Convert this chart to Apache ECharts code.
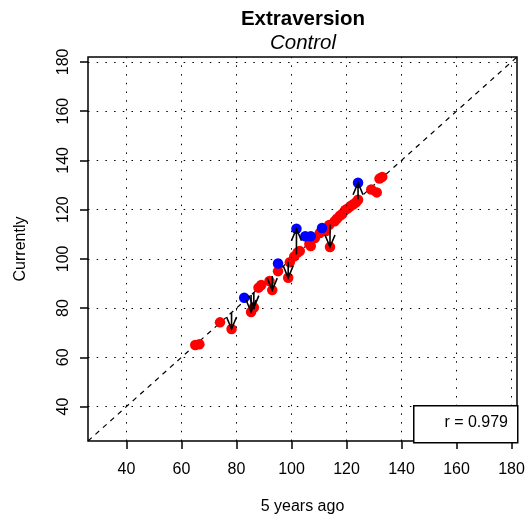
<!DOCTYPE html>
<html>
<head>
<meta charset="utf-8">
<script src="https://cdn.jsdelivr.net/npm/echarts@6/dist/echarts.min.js"></script>
<style>
  html, body { margin: 0; padding: 0; background: #fff; }
  #chart { width: 528px; height: 520px; }
</style>
</head>
<body>
<div id="chart"></div>
<script>
// Tick values shared by both axes, and the visible axis range
const ticks = [40, 60, 80, 100, 120, 140, 160, 180];
const axisRange = [26, 182];

// Scores five years ago (x) and currently (y)
const redX = [65, 66.5, 74, 78.2, 85.3, 86.3, 88, 89, 92, 93, 95.1, 98.8, 99.4, 101, 102.2, 103, 106.5, 107, 108.5, 110.3, 112.5, 113.7, 114, 115.7, 116.5, 117.6, 118.5, 119.5, 120.5, 121.5, 122.5, 123.5, 124.2, 129, 131, 132, 133];
const redY = [65, 65.3, 74.2, 71.5, 78.4, 80.2, 88.3, 89.4, 91, 87.3, 95, 92.3, 98.6, 101, 102.6, 103.2, 106, 105.2, 108.5, 110.5, 111.3, 113.8, 104.8, 115.3, 116.3, 117.5, 118.3, 119.8, 120.5, 121.5, 122.2, 123, 124, 128.2, 127, 132.6, 133.3];

const blueX = [82.8, 95.1, 101.8, 105, 107, 111.1, 124.2];
const blueY = [84.2, 98.1, 112.2, 109.2, 109.2, 112.5, 130.9];

// Subjects with a large change: arrow runs from the identity line to the score
const arrowX = [78.2, 85.3, 86.3, 93, 98.8, 101.8, 114, 124.2];
const arrowY = [71.5, 78.4, 80.2, 87.3, 92.3, 112.2, 104.8, 130.9];

const titleText = 'Extraversion';
const subtitleText = 'Control';
const xName = '5 years ago';
const yName = 'Currently';
const corrText = 'r = 0.979';

const font = '"Liberation Sans", Arial, Helvetica, sans-serif';
const zip = (a, b) => a.map((v, i) => [v, b[i]]);

const chart = echarts.init(document.getElementById('chart'), null, { renderer: 'canvas' });

function axisCommon(name, nameGap, isY) {
  return {
    type: 'value',
    min: axisRange[0],
    max: axisRange[1],
    axisLine: { show: false },
    axisTick: {
      show: true, inside: false, length: 8, customValues: ticks,
      lineStyle: { color: '#000', width: 1.5 }
    },
    axisLabel: {
      customValues: ticks, color: '#000', fontSize: 16, fontFamily: font,
      margin: isY ? 16 : 21, rotate: isY ? 90 : 0
    },
    splitLine: { show: false },
    name: name,
    nameLocation: 'middle',
    nameGap: nameGap,
    nameRotate: isY ? 90 : 0,
    nameTextStyle: { color: '#000', fontSize: 16, fontFamily: font }
  };
}

const option = {
  animation: false,
  title: {
    text: titleText,
    subtext: subtitleText,
    left: 298,
    textAlign: 'center',
    top: 4,
    itemGap: 3,
    textStyle: { color: '#000', fontSize: 20.5, fontWeight: 'bold', fontFamily: font },
    subtextStyle: { color: '#000', fontSize: 20.5, fontStyle: 'italic', fontFamily: font }
  },
  grid: {
    left: 88, top: 57, right: 11, bottom: 78,
    show: true, borderColor: '#000', borderWidth: 1.5, backgroundColor: 'transparent'
  },
  xAxis: axisCommon(xName, 58, false),
  yAxis: axisCommon(yName, 59, true),
  series: [
    {
      // dotted reference grid at the tick values
      type: 'line',
      data: [],
      silent: true,
      z: 1,
      markLine: {
        silent: true,
        symbol: ['none', 'none'],
        label: { show: false },
        lineStyle: { color: '#000', width: 1, type: [1.5, 7.2] },
        data: ticks.map(v => ({ xAxis: v })).concat(ticks.map(v => ({ yAxis: v })))
      }
    },
    {
      // identity line y = x
      type: 'line',
      data: [[axisRange[0], axisRange[0]], [axisRange[1], axisRange[1]]],
      symbol: 'none',
      silent: true,
      z: 2,
      lineStyle: { color: '#000', width: 1.2, type: [5, 5] }
    },
    {
      type: 'scatter',
      data: zip(redX, redY),
      symbol: 'circle',
      symbolSize: 10.5,
      itemStyle: { color: '#ff0000', opacity: 1 },
      z: 3
    },
    {
      type: 'scatter',
      data: zip(blueX, blueY),
      symbol: 'circle',
      symbolSize: 10.5,
      itemStyle: { color: '#0000ff', opacity: 1 },
      z: 4
    },
    {
      type: 'custom',
      data: zip(arrowX, arrowY),
      encode: { x: 0, y: 1 },
      z: 5,
      renderItem: function (params, api) {
        const x = api.value(0), y = api.value(1);
        const p0 = api.coord([x, x]);
        const p1 = api.coord([x, y]);
        const dir = Math.sign(p1[1] - p0[1]) || 1;
        const L = 12, W = 5;
        const st = { stroke: '#000', lineWidth: 1.6, fill: null };
        return {
          type: 'group',
          children: [
            { type: 'line', shape: { x1: p0[0], y1: p0[1], x2: p1[0], y2: p1[1] }, style: st },
            {
              type: 'polyline',
              shape: { points: [[p1[0] - W, p1[1] - dir * L], [p1[0], p1[1]], [p1[0] + W, p1[1] - dir * L]] },
              style: st
            }
          ]
        };
      }
    }
  ],
  graphic: [
    {
      type: 'rect',
      left: 413, top: 405, z: 100,
      shape: { width: 104, height: 37 },
      style: { fill: '#fff', stroke: '#000', lineWidth: 1.5 }
    },
    {
      type: 'text',
      right: 20, top: 415, z: 101,
      style: { text: corrText, fill: '#000', fontSize: 16, fontFamily: font }
    }
  ]
};

chart.setOption(option);
</script>
</body>
</html>
